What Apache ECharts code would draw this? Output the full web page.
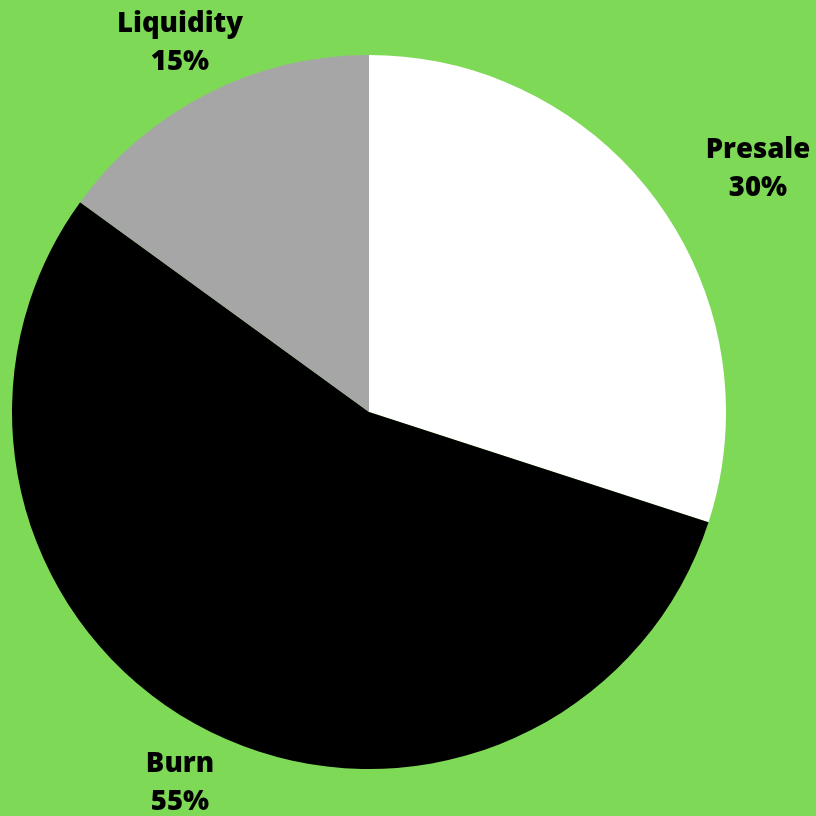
<!DOCTYPE html>
<html>
<head>
<meta charset="utf-8">
<style>
html,body{margin:0;padding:0;background:#7ED957;}
#chart{width:816px;height:816px;}
</style>
<script src="https://cdn.jsdelivr.net/npm/echarts@6/dist/echarts.min.js"></script>
</head>
<body>
<div id="chart"></div>
<script>
const categories = ['Presale', 'Burn', 'Liquidity'];
const values = [30, 55, 15];
const sliceColors = ['#FFFFFF', '#000000', '#A6A6A6'];
// label anchor positions (layout only)
const labelSpots = [[758, 169], [180, 783], [180, 43]];

const chart = echarts.init(document.getElementById('chart'), null, {renderer: 'canvas'});
chart.setOption({
  backgroundColor: '#7ED957',
  animation: false,
  series: [{
    type: 'pie',
    center: [369, 412],
    radius: 357,
    startAngle: 90,
    clockwise: true,
    silent: true,
    data: categories.map((c, i) => ({name: c, value: values[i], itemStyle: {color: sliceColors[i]}})),
    itemStyle: {borderWidth: 0},
    label: {
      show: true,
      position: 'outside',
      alignTo: 'none',
      edgeDistance: 0,
      bleedMargin: 0,
      overflow: 'none',
      formatter: p => p.name + '\n' + p.value + '%',
      fontFamily: 'Open Sans',
      fontWeight: 800,
      fontSize: 27.5,
      lineHeight: 38,
      color: '#000000',
      align: 'center',
      verticalAlign: 'middle'
    },
    labelLine: {show: false},
    labelLayout: function (params) {
      const s = labelSpots[params.dataIndex];
      return {x: s[0], y: s[1], align: 'center', verticalAlign: 'middle', hideOverlap: false};
    }
  }]
});
</script>
</body>
</html>
